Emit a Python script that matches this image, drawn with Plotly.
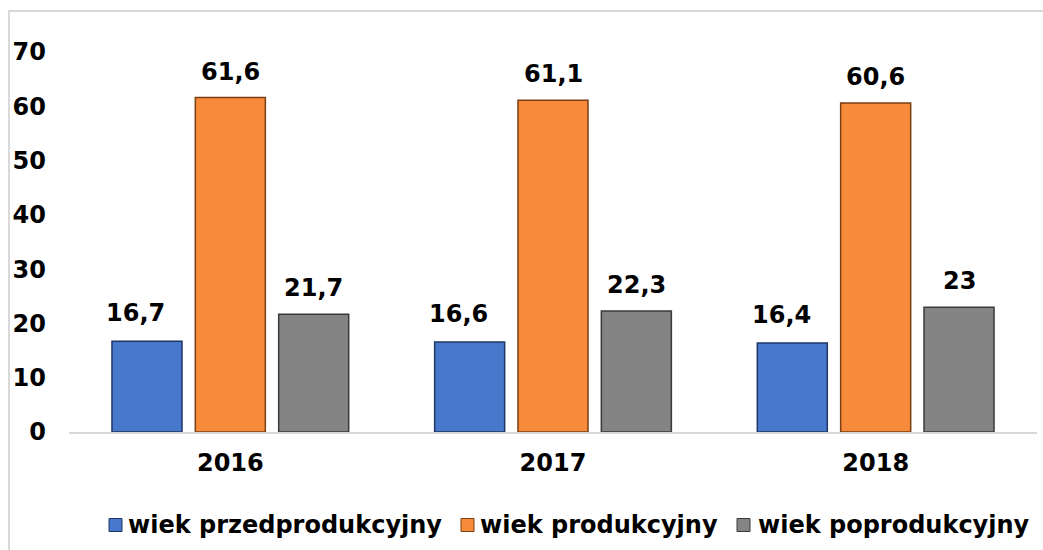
import plotly.graph_objects as go

years = ["2016", "2017", "2018"]
series_names = ["wiek przedprodukcyjny", "wiek produkcyjny", "wiek poprodukcyjny"]
przed = [16.7, 16.6, 16.4]
prod = [61.6, 61.1, 60.6]
poprod = [21.7, 22.3, 23.0]
y_ticks = [0, 10, 20, 30, 40, 50, 60, 70]

colors = ["#4878CB", "#F78A3B", "#848484"]
edge_colors = ["#1F3764", "#7A3F12", "#3A3A3A"]
FONT = "DejaVu Sans"
FS = 24

W, H = 1043, 550
L, R, T, B = 69, 6, 52, 118
plot_w = W - L - R
plot_h = H - T - B

def px_x(px):
    return (px - L) / plot_w

def px_y(py):
    return (T + plot_h - py) / plot_h

fig = go.Figure()
all_series = [przed, prod, poprod]
for name, vals, c, ec in zip(series_names, all_series, colors, edge_colors):
    fig.add_trace(go.Bar(
        x=years, y=vals, name=name, showlegend=False,
        marker=dict(color=c, line=dict(color=ec, width=1.5)),
    ))

bargap = 0.225
bargroupgap = 0.16
cat_px = plot_w / len(years)
slot_px = cat_px * (1 - bargap) / 3

def fmt(v):
    s = f"{v:.1f}".replace(".", ",")
    if s.endswith(",0"):
        s = s[:-2]
    return s

label_nudge = [-11, 0, 0]
label_lift = [12, 10, 10]
for i, vals in enumerate(all_series):
    for j, v in enumerate(vals):
        fig.add_annotation(
            x=j, y=v, text=fmt(v), showarrow=False,
            xanchor="center", yanchor="bottom",
            xshift=(i - 1) * slot_px + label_nudge[i], yshift=label_lift[i],
            font=dict(family=FONT, size=FS, color="#000000", weight="bold"),
        )

# custom legend (symbol square + label)
legend_sym_left = [109, 461, 737]
legend_text_left = [127, 479, 757]
legend_cy = 525
for name, c, ec, sx, tx in zip(series_names, colors, edge_colors, legend_sym_left, legend_text_left):
    fig.add_shape(
        type="rect", xref="paper", yref="paper",
        x0=px_x(sx), x1=px_x(sx + 13),
        y0=px_y(legend_cy + 6.5), y1=px_y(legend_cy - 6.5),
        fillcolor=c, line=dict(color=ec, width=1),
    )
    fig.add_annotation(
        xref="paper", yref="paper", x=px_x(tx), y=px_y(legend_cy),
        xanchor="left", yanchor="middle", text=name, showarrow=False,
        borderpad=0,
        font=dict(family=FONT, size=FS, color="#000000", weight="bold"),
    )

# outer chart border (partially cropped in the reference)
fig.add_shape(
    type="rect", xref="paper", yref="paper",
    x0=px_x(9), x1=px_x(W + 10),
    y0=px_y(H + 10), y1=px_y(11),
    line=dict(color="#D9D9D9", width=2), fillcolor="rgba(0,0,0,0)", layer="below",
)

fig.update_layout(
    width=W, height=H,
    margin=dict(l=L, r=R, t=T, b=B),
    paper_bgcolor="white", plot_bgcolor="white",
    barmode="group", bargap=bargap, bargroupgap=bargroupgap,
    font=dict(family=FONT, size=FS, color="#000000", weight="bold"),
    showlegend=False,
    hovermode=False,
    xaxis=dict(
        type="category", range=[-0.5, len(years) - 0.5], automargin=False,
        showline=True, linecolor="#D9D9D9", linewidth=2,
        showgrid=False, ticks="", ticklabelstandoff=8,
        tickfont=dict(family=FONT, size=FS, color="#000000", weight="bold"),
    ),
    yaxis=dict(
        range=[0, 70], tickvals=y_ticks, showgrid=False, zeroline=False,
        automargin=False,
        showline=False, ticks="", ticklabelstandoff=22,
        tickfont=dict(family=FONT, size=FS, color="#000000", weight="bold"),
    ),
)

fig.write_html(
    "out.html",
    config={"displayModeBar": False},
    post_script="document.body.style.margin='0';document.body.style.overflow='hidden';",
)
